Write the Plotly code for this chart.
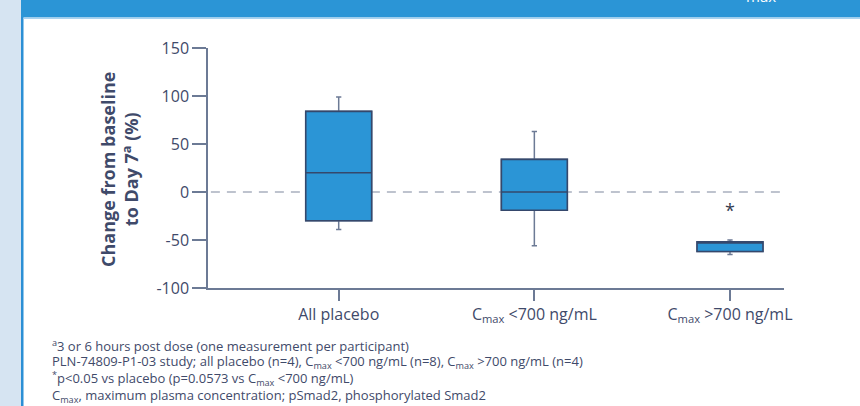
import plotly.graph_objects as go

# Groups and box-plot summary statistics (% change from baseline to Day 7)
groups = ["All placebo", "C<sub>max</sub> &lt;700 ng/mL", "C<sub>max</sub> &gt;700 ng/mL"]
upper_fence = [99, 63, -50]
q3 = [84, 34, -52]
median = [20, 0, -53]
q1 = [-30, -19, -62]
lower_fence = [-39, -56, -65]

# Significance marker
sig_group = groups[2]
sig_y = -19

y_ticks = [-100, -50, 0, 50, 100, 150]
y_ticktext = ["-100", "-50", "0", "50", "100", "150"]

footnotes = [
    "<sup>a</sup>3 or 6 hours post dose (one measurement per participant)",
    "PLN-74809-P1-03 study; all placebo (n=4), C<sub>max</sub> &lt;700 ng/mL (n=8), "
    "C<sub>max</sub> &gt;700 ng/mL (n=4)",
    "<sup>*</sup>p&lt;0.05 vs placebo (p=0.0573 vs C<sub>max</sub> &lt;700 ng/mL)",
    "C<sub>max</sub>, maximum plasma concentration; pSmad2, phosphorylated Smad2",
]
footnote_rows = [345, 362, 378, 396]

W, H = 860, 406
ML, MR, MT, MB = 208, 76, 48, 118
PW, PH = W - ML - MR, H - MT - MB

TEXT = "#3f4a6a"
AXIS = "#6c7a95"
BLUE = "#2b95d6"
FONT = "'Open Sans', Lato, sans-serif"


def px_x(p):
    return (p - ML) / PW


def px_y(p):
    return (H - MB - p) / PH


fig = go.Figure()

# Whiskers (lighter slate)
fig.add_trace(go.Box(
    x=groups, q1=q1, median=median, q3=q3,
    lowerfence=lower_fence, upperfence=upper_fence,
    fillcolor=BLUE, line=dict(color=AXIS, width=1.5),
    width=0.337, whiskerwidth=0.08, boxpoints=False, hoverinfo="skip",
    showlegend=False,
))
# Box body and median (dark navy outline) drawn on top
fig.add_trace(go.Box(
    x=groups, q1=q1, median=median, q3=q3,
    lowerfence=q1, upperfence=q3,
    fillcolor=BLUE, line=dict(color="#35486c", width=1.6),
    width=0.337, whiskerwidth=0, boxpoints=False, hoverinfo="skip",
    showlegend=False,
))

shapes = [
    # left page strip and border
    dict(type="rect", xref="paper", yref="paper", x0=px_x(0), x1=px_x(21),
         y0=px_y(H), y1=px_y(0), fillcolor="#d6e4f2", line_width=0, layer="below"),
    dict(type="rect", xref="paper", yref="paper", x0=px_x(21), x1=px_x(23.5),
         y0=px_y(H), y1=px_y(0), fillcolor="#2b8fd5", line_width=0, layer="below"),
    # header band
    dict(type="rect", xref="paper", yref="paper", x0=px_x(21), x1=px_x(W),
         y0=px_y(17.5), y1=px_y(0), fillcolor=BLUE, line_width=0, layer="below"),
    dict(type="rect", xref="paper", yref="paper", x0=px_x(23.5), x1=px_x(W),
         y0=px_y(19), y1=px_y(17.5), fillcolor="#a9d2ef", line_width=0, layer="below"),
    # zero reference line
    dict(type="line", xref="paper", yref="y", x0=0.005, x1=0.997, y0=0, y1=0,
         line=dict(color="#a9b0bf", width=1.6, dash="9px,7px"), layer="below"),
]

annotations = [
    dict(text="<b>Change from baseline<br>to Day 7<sup>a</sup> (%)</b>",
         xref="paper", yref="paper", x=px_x(119), y=px_y(170),
         xanchor="center", yanchor="middle", textangle=-90, showarrow=False,
         font=dict(family=FONT, size=18, color=TEXT)),
    dict(text="*", xref="x", yref="y", x=sig_group, y=sig_y,
         xanchor="center", yanchor="middle", showarrow=False,
         font=dict(family=FONT, size=18, color="#333b4f")),
    dict(text="max", xref="paper", yref="paper", x=px_x(761), y=px_y(8),
         xanchor="center", yanchor="bottom", showarrow=False,
         font=dict(family=FONT, size=15, color="white")),
]
for line, row in zip(footnotes, footnote_rows):
    annotations.append(dict(
        text=line, xref="paper", yref="paper", x=px_x(50), y=px_y(row),
        xanchor="left", yanchor="middle", showarrow=False, align="left",
        font=dict(family=FONT, size=13, color=TEXT)))

fig.update_layout(
    width=W, height=H,
    margin=dict(l=ML, r=MR, t=MT, b=MB, pad=0),
    paper_bgcolor="white", plot_bgcolor="white",
    font=dict(family=FONT, color=TEXT),
    shapes=shapes, annotations=annotations,
    xaxis=dict(type="category", categoryorder="array", categoryarray=groups,
               range=[-0.668, 2.276], showline=True, linecolor=AXIS, linewidth=1.5,
               ticks="outside", ticklen=11, tickcolor=AXIS, tickwidth=1.5,
               showgrid=False, zeroline=False,
               tickfont=dict(family=FONT, size=16, color=TEXT)),
    yaxis=dict(range=[-100, 150], tickvals=y_ticks, ticktext=y_ticktext,
               showline=True, linecolor=AXIS, linewidth=1.5,
               ticks="outside", ticklen=14, tickcolor=AXIS, tickwidth=1.5,
               showgrid=False, zeroline=False,
               tickfont=dict(family=FONT, size=16, color=TEXT)),
)

fig.write_html("out.html")
